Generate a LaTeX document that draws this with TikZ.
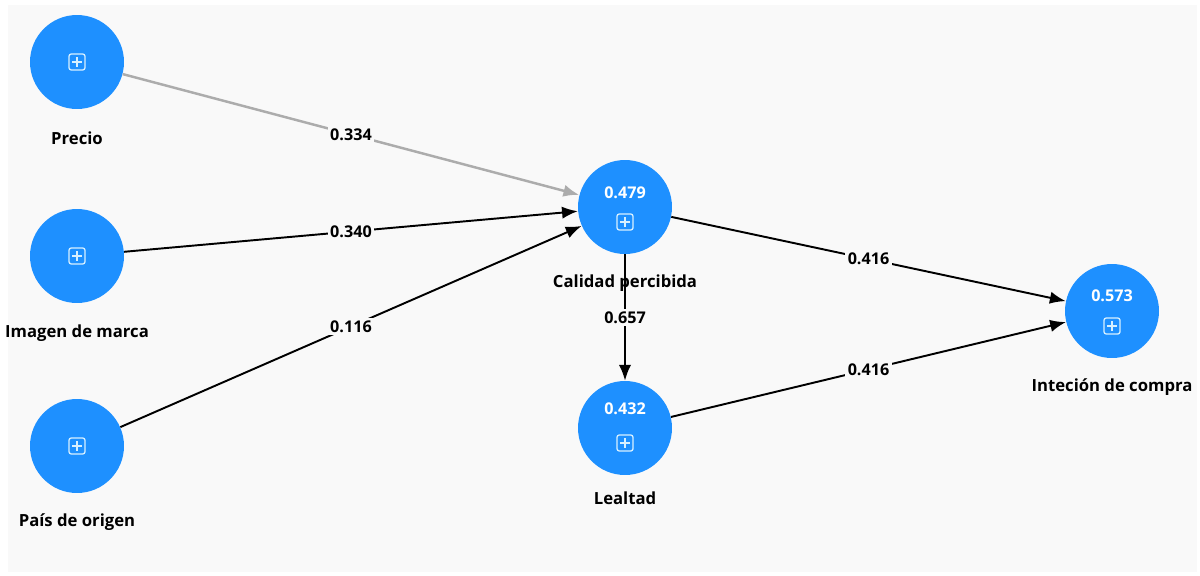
\documentclass[tikz,border=0pt]{standalone}
\usepackage{fontspec}
\setmainfont{Open Sans}
\usetikzlibrary{arrows.meta}
\definecolor{lvblue}{RGB}{30,144,255}
\definecolor{canvas}{RGB}{249,249,249}
\definecolor{pathgray}{RGB}{172,172,172}
\definecolor{iconblue}{RGB}{215,240,255}
\tikzset{
  lv/.style={circle,fill=lvblue,minimum size=1.88cm,inner sep=0pt},
  rsq/.style={font=\fontsize{9.2}{11}\selectfont\bfseries,text=white,inner sep=0pt},
  lvname/.style={font=\fontsize{9.5}{11}\selectfont\bfseries,inner sep=0pt},
  coef/.style={font=\fontsize{9.2}{11}\selectfont\bfseries,text=black,fill=canvas,inner sep=1.5pt},
  path/.style={line width=1.1pt,->},
  plusbox/.pic={
    \draw[iconblue,line width=0.75pt,rounded corners=1.3pt] (-8,-8) rectangle (8,8);
    \draw[iconblue,line width=0.75pt] (-5,0)--(5,0) (0,-5)--(0,5);
  }
}
\begin{document}
\begin{tikzpicture}[x=0.02cm,y=-0.02cm,>={Latex[length=9pt,width=7pt]}]
      \useasboundingbox (0,0) rectangle (1200,575) ;
      \fill[white] (0,0) rectangle (1200,575) ;
      \fill[canvas] (8,5) rectangle (1197,572) ;
      % latent variables
      \node[lv] (pre) at (77,62) {} ;
      \node[lv] (ima) at (77,256) {} ;
      \node[lv] (pai) at (77,446) {} ;
      \node[lv] (cal) at (625,207) {} ;
      \node[lv] (lea) at (625,428) {} ;
      \node[lv] (int) at (1112,311) {} ;
      \foreach \v in {pre,ima,pai} \pic at (\v) {plusbox} ;
      \foreach \v in {cal,lea,int} \pic at ([yshift=-0.3cm]\v) {plusbox} ;
      % R square values
      \node[rsq] (cal-r) at (625,193) {0.479} ;
      \node[rsq] (lea-r) at (625,409) {0.432} ;
      \node[rsq] (int-r) at (1112,296) {0.573} ;
      % names
      \node[lvname] (pre-n) at (77,138) {Precio} ;
      \node[lvname] (ima-n) at (77,333) {Imagen de marca} ;
      \node[lvname] (pai-n) at (77,522) {País de origen} ;
      \node[lvname] (cal-n) at (625,283) {Calidad percibida} ;
      \node[lvname] (lea-n) at (625,498) {Lealtad} ;
      \node[lvname] (int-n) at (1112,387) {Inteción de compra} ;
      % paths
      \draw[path,pathgray,line width=1.4pt] (pre)--(cal) node[coef,midway]{0.334} ;
      \draw[path] (ima)--(cal) node[coef,midway]{0.340} ;
      \draw[path] (pai)--(cal) node[coef,midway]{0.116} ;
      \draw[path] (cal)--(int) node[coef,midway]{0.416} ;
      \draw[path] (lea)--(int) node[coef,midway]{0.416} ;
      \draw[path] (cal)--(lea) node[coef,midway]{0.657} ;
    \end{tikzpicture}
\end{document}
